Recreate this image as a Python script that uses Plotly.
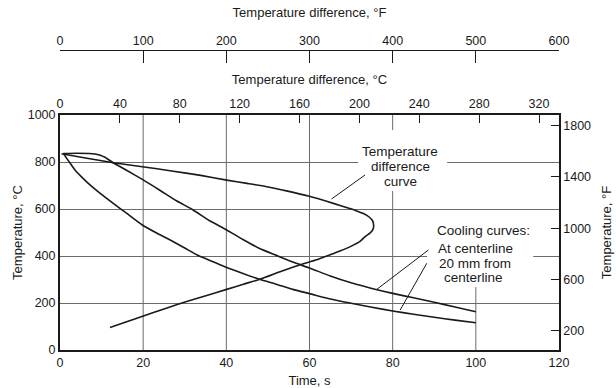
import plotly.graph_objects as go

# ---------------- data ----------------
# Cooling curve at the centerline: time (s) vs temperature (°C)
center_time = [0.8, 4, 7, 8.4, 10, 10.8, 12.8, 16, 19.8, 24, 28, 32, 36, 40, 44, 48,
               52, 56, 60, 65, 70, 75, 80, 85, 90, 95, 100]
center_temp = [836, 837, 836, 834, 827, 820, 797, 765, 726, 680, 635, 596, 550, 512, 470, 432,
               403, 374, 349, 315, 286, 262, 241, 222, 203, 183, 163]

# Cooling curve 20 mm from the centerline
off_time = [0.8, 2, 3.6, 5, 6.8, 9, 12.8, 16, 19.8, 23, 26.5, 30, 33, 36.5, 40, 44, 48,
            52, 56, 60, 65, 70, 75, 80, 85, 90, 95, 100]
off_temp = [836, 806, 766, 740, 709, 676, 624, 582, 532, 500, 468, 434, 404, 378, 352, 326, 301,
            280, 258, 240, 217, 199, 182, 166, 152, 139, 127, 116]

# Temperature difference curve: difference (°C) vs temperature (°C)
diff_dT = [1, 18, 35.6, 55, 74.6, 94, 111.3, 125, 138, 152, 165.9, 182.6, 193, 198.2, 203,
           206.5, 208.8, 209.5, 209, 207, 204, 200.4, 194, 187, 180, 171.5, 161.5, 153.7,
           147, 133.6, 122, 111.3, 98, 84.6, 70, 55.7, 45, 33.4]
diff_T = [835, 816, 797, 780, 762, 743, 723, 709, 695, 676, 655, 624, 603, 592, 580,
          566, 550, 532, 512, 497, 484, 462, 440, 421, 404, 384, 365, 348,
          333, 301, 279, 258, 232, 206, 176, 145, 121, 96]

# axis ticks
time_ticks = [0, 20, 40, 60, 80, 100, 120]
tempC_ticks = [0, 200, 400, 600, 800, 1000]
tempF_ticks = [200, 600, 1000, 1400, 1800]
dC_ticks = [0, 40, 80, 120, 160, 200, 240, 280, 320]
dF_ticks = [0, 100, 200, 300, 400, 500, 600]
grid_times = [20, 40, 60, 80, 100]

# labels
diff_label = ["Temperature", "difference", "curve"]
cool_label = ["Cooling curves:", "At centerline", "20 mm from", "centerline"]

# ---------------- styling / layout constants ----------------
FONT = "Liberation Sans, Arial, Helvetica, sans-serif"
INK = "#1a1a1a"
GRID = "#6a6a6a"
curve_line = dict(color=INK, width=1.6, shape="spline", smoothing=0.6)

fig = go.Figure()
fig.add_trace(go.Scatter(x=center_time, y=center_temp, mode="lines", line=curve_line,
                         xaxis="x", yaxis="y", showlegend=False, hoverinfo="skip"))
fig.add_trace(go.Scatter(x=off_time, y=off_temp, mode="lines", line=curve_line,
                         xaxis="x", yaxis="y", showlegend=False, hoverinfo="skip"))
fig.add_trace(go.Scatter(x=diff_dT, y=diff_T, mode="lines", line=curve_line,
                         xaxis="x2", yaxis="y", showlegend=False, hoverinfo="skip"))
# invisible helpers so the extra axes are drawn
fig.add_trace(go.Scatter(x=[dF_ticks[0], dF_ticks[-1]], y=[None, None], mode="lines",
                         xaxis="x3", yaxis="y", showlegend=False, hoverinfo="skip"))
fig.add_trace(go.Scatter(x=[None, None], y=[tempF_ticks[0], tempF_ticks[-1]], mode="lines",
                         xaxis="x", yaxis="y2", showlegend=False, hoverinfo="skip"))

shapes = []
# vertical grid lines (the one at 100 s stops below the cooling-curve label)
grid_top = {100: 400}
for t in grid_times:
    shapes.append(dict(type="line", xref="x", yref="y", x0=t, x1=t, y0=0,
                       y1=grid_top.get(t, 1000), line=dict(color=GRID, width=1), layer="below"))
# white label boxes
shapes.append(dict(type="rect", xref="x", yref="y", x0=71.7, x1=93.1, y0=677, y1=936,
                   fillcolor="white", line=dict(width=0), layer="above"))
shapes.append(dict(type="rect", xref="x", yref="y", x0=88.3, x1=113.8, y0=268, y1=574,
                   fillcolor="white", line=dict(width=0), layer="above"))
# leader lines
leaders = [((73.35, 744.7), (65.3, 642.6)),
           ((88.6, 425.5), (76.2, 258.3)),
           ((88.2, 369.0), (81.8, 170.0))]
for (xa, ya), (xb, yb) in leaders:
    shapes.append(dict(type="line", xref="x", yref="y", x0=xa, y0=ya, x1=xb, y1=yb,
                       line=dict(color=INK, width=1), layer="above"))

annotations = []
diff_pos = [(81.77, 843.8), (81.77, 780.0), (81.77, 716.2)]
for txt, (x, y) in zip(diff_label, diff_pos):
    annotations.append(dict(text=txt, x=x, y=y, xref="x", yref="y", showarrow=False,
                            font=dict(family=FONT, size=13.5, color=INK)))
cool_pos = [(101.9, 510.6), (99.97, 432.8), (99.7, 368.9), (99.5, 307.7)]
for txt, (x, y) in zip(cool_label, cool_pos):
    annotations.append(dict(text=txt, x=x, y=y, xref="x", yref="y", showarrow=False,
                            font=dict(family=FONT, size=13.5, color=INK)))

tickfont = dict(family=FONT, size=12.5, color=INK)
titlefont = dict(family=FONT, size=13, color=INK)

fig.update_layout(
    width=616, height=388,
    margin=dict(l=60, r=57, t=50, b=38, pad=0),
    paper_bgcolor="white", plot_bgcolor="white",
    font=dict(family=FONT, size=12.5, color=INK),
    shapes=shapes, annotations=annotations,
    xaxis=dict(domain=[0, 1], range=[0, 120], tickvals=time_ticks, showgrid=False,
               zeroline=False, showline=True, linecolor=INK, linewidth=2, ticks="",
               tickfont=tickfont, anchor="y", automargin=False,
               title=dict(text="Time, s", font=titlefont, standoff=8)),
    yaxis=dict(domain=[0, 0.78333], range=[0, 1000], tickvals=tempC_ticks, showgrid=True,
               gridcolor=GRID, gridwidth=1, zeroline=False, showline=True, linecolor=INK,
               linewidth=2, ticks="", tickfont=tickfont, anchor="x", automargin=False,
               title=dict(text="Temperature, °C", font=titlefont, standoff=2)),
    xaxis2=dict(overlaying="x", side="top", anchor="y", range=[0, 333.33], tickvals=dC_ticks,
                showgrid=False, zeroline=False, showline=True, linecolor=INK, linewidth=1.5,
                ticks="inside", ticklen=8, tickcolor=INK, tickwidth=1, tickfont=tickfont,
                automargin=False,
                title=dict(text="Temperature difference, °C", font=titlefont, standoff=10)),
    xaxis3=dict(overlaying="x", side="top", anchor="free", position=1, range=[0, 600],
                tickvals=dF_ticks, showgrid=False, zeroline=False, showline=True,
                linecolor=INK, linewidth=1.2, ticks="inside", ticklen=12, tickcolor=INK,
                tickwidth=1, tickfont=tickfont, automargin=False,
                title=dict(text="Temperature difference, °F", font=titlefont, standoff=12)),
    yaxis2=dict(overlaying="y", side="right", anchor="x", range=[50, 1882],
                tickvals=tempF_ticks, showgrid=False, zeroline=False, showline=True,
                linecolor=INK, linewidth=1.5, ticks="inside", ticklen=8, tickcolor=INK,
                tickwidth=1, tickfont=tickfont, automargin=False,
                title=dict(text="Temperature, °F", font=titlefont, standoff=12)),
)

fig.write_html("out.html")
